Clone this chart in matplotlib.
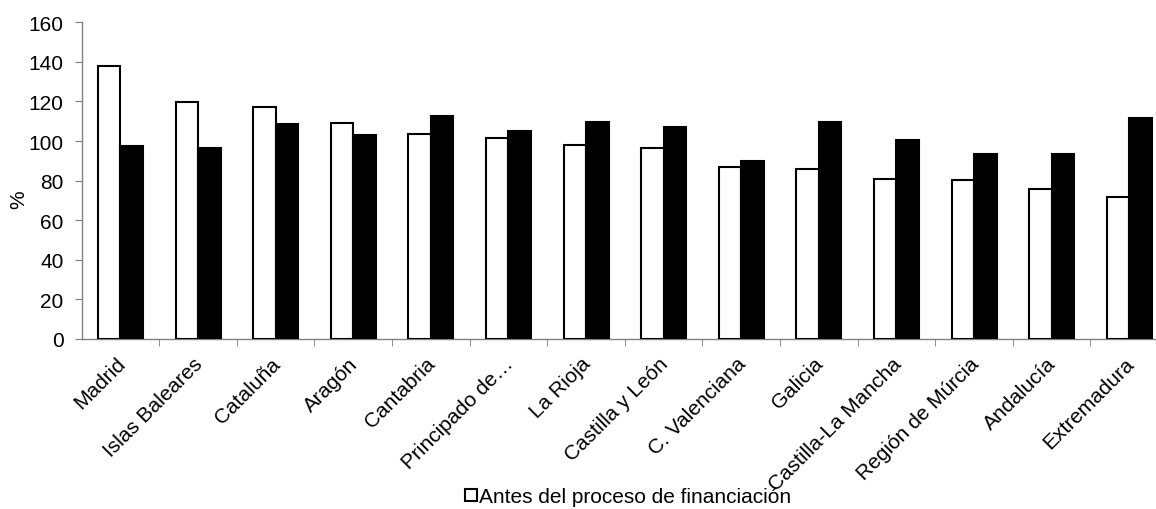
import matplotlib

matplotlib.use("Agg")
import matplotlib.pyplot as plt
import matplotlib.transforms as mtransforms
import numpy as np
from matplotlib.patches import Patch

# --- data ------------------------------------------------------------------
regions = [
    "Madrid", "Islas Baleares", "Cataluña", "Aragón", "Cantabria",
    "Principado de…", "La Rioja", "Castilla y León", "C. Valenciana",
    "Galicia", "Castilla-La Mancha", "Región de Múrcia", "Andalucía",
    "Extremadura",
]
antes = [137.8, 119.6, 117.4, 109.0, 103.6, 101.7, 97.9, 96.3, 86.7, 86.1,
         80.8, 80.3, 75.9, 71.5]
despues = [97.7, 96.7, 108.5, 103.2, 112.5, 105.1, 109.8, 106.9, 89.9, 109.8,
           100.5, 93.5, 93.5, 111.5]
y_ticks = [0, 20, 40, 60, 80, 100, 120, 140, 160]

plt.rcParams.update({
    "font.family": ["Liberation Sans", "DejaVu Sans"],
    "font.size": 15,
})

AXIS = "#808080"
W, H = 1156, 510

fig = plt.figure(figsize=(W / 100, H / 100), dpi=100)
# plot area runs a little past the right edge, as in the cropped original
ax = fig.add_axes([81.7 / W, 1 - 340 / H, (1168 - 81.7) / W, (340 - 23.3) / H])

x = np.arange(len(regions))
bw = 0.29
ax.bar(x - bw / 2, antes, bw, color="white", edgecolor="black", lw=1.5,
       zorder=3)
ax.bar(x + bw / 2, despues, bw, color="black", edgecolor="black", lw=1.5,
       zorder=3)

ax.set_xlim(-0.5, len(regions) - 0.5)
ax.set_ylim(0, 160)
ax.set_yticks(y_ticks)

ax.set_xticks(x)
ax.set_xticklabels(regions, rotation=45, ha="right", rotation_mode="anchor")
ax.set_xticks(np.arange(0.5, len(regions) - 0.5, 1), minor=True)
ax.tick_params(axis="x", which="major", length=0, pad=7)
ax.tick_params(axis="x", which="minor", length=5, color=AXIS, direction="out")
ax.tick_params(axis="y", length=5, color=AXIS, direction="out", pad=8)

# nudge the slanted names a few pixels left/down, like the original
shift = mtransforms.ScaledTranslation(-0.05, -0.05, fig.dpi_scale_trans)
for lbl in ax.get_xticklabels():
    lbl.set_transform(lbl.get_transform() + shift)

for side in ("top", "right"):
    ax.spines[side].set_visible(False)
for side in ("left", "bottom"):
    ax.spines[side].set_color(AXIS)
    ax.spines[side].set_linewidth(1.0)

ax.set_ylabel("%")
ax.yaxis.set_label_coords((28 - 81.7) / (1168 - 81.7), (340 - 200) / (340 - 23.3))

handle = Patch(facecolor="white", edgecolor="black", lw=1.5)
fig.legend(handles=[handle], labels=["Antes del proceso de financiación"],
           loc="center left", bbox_to_anchor=(455 / W, 1 - 498 / H),
           frameon=False, borderpad=0, handlelength=0.55, handleheight=0.55,
           handletextpad=0.12)

fig.savefig("out.png", dpi=100)
